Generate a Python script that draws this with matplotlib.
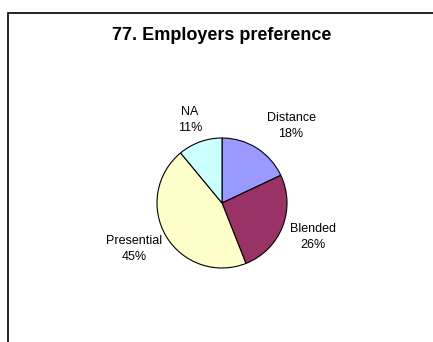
import matplotlib
matplotlib.use('Agg')
import matplotlib.pyplot as plt
from matplotlib.patches import Rectangle

categories = ['Distance', 'Blended', 'Presential', 'NA']
shares = [18, 26, 45, 11]
colors = ['#9999FF', '#993366', '#FFFFCC', '#CCFFFF']
# label anchor points in pixels (from top-left)
label_pos = [(291, 126), (313, 237), (134, 249), (190, 120)]

plt.rcParams['font.family'] = ['Liberation Sans', 'DejaVu Sans']

W, H = 433, 342
fig = plt.figure(figsize=(W / 100, H / 100), dpi=100)
ax = fig.add_axes([0, 0, 1, 1])

# chart area border (only left and top edges visible)
ax.add_patch(Rectangle((8, -10), W + 20, H - 13 + 10, fill=False,
                       edgecolor='black', linewidth=1.2))

cx, cy, r = 222, H - 203, 65
wedges, _ = ax.pie(shares, colors=colors, startangle=90, counterclock=False,
                   center=(cx, cy), radius=r, frame=True,
                   wedgeprops=dict(edgecolor='black', linewidth=0.8))
ax.set_xlim(0, W)
ax.set_ylim(0, H)
ax.set_aspect('equal')
ax.axis('off')

for name, val, (x, y) in zip(categories, shares, label_pos):
    ax.text(x, H - y, f'{name}\n{val}%', ha='center', va='center',
            fontsize=9, linespacing=1.5)

ax.text(222, H - 35, '77. Employers preference', ha='center', va='center',
        fontsize=13, fontweight='bold')

plt.savefig('out.png', dpi=100)
